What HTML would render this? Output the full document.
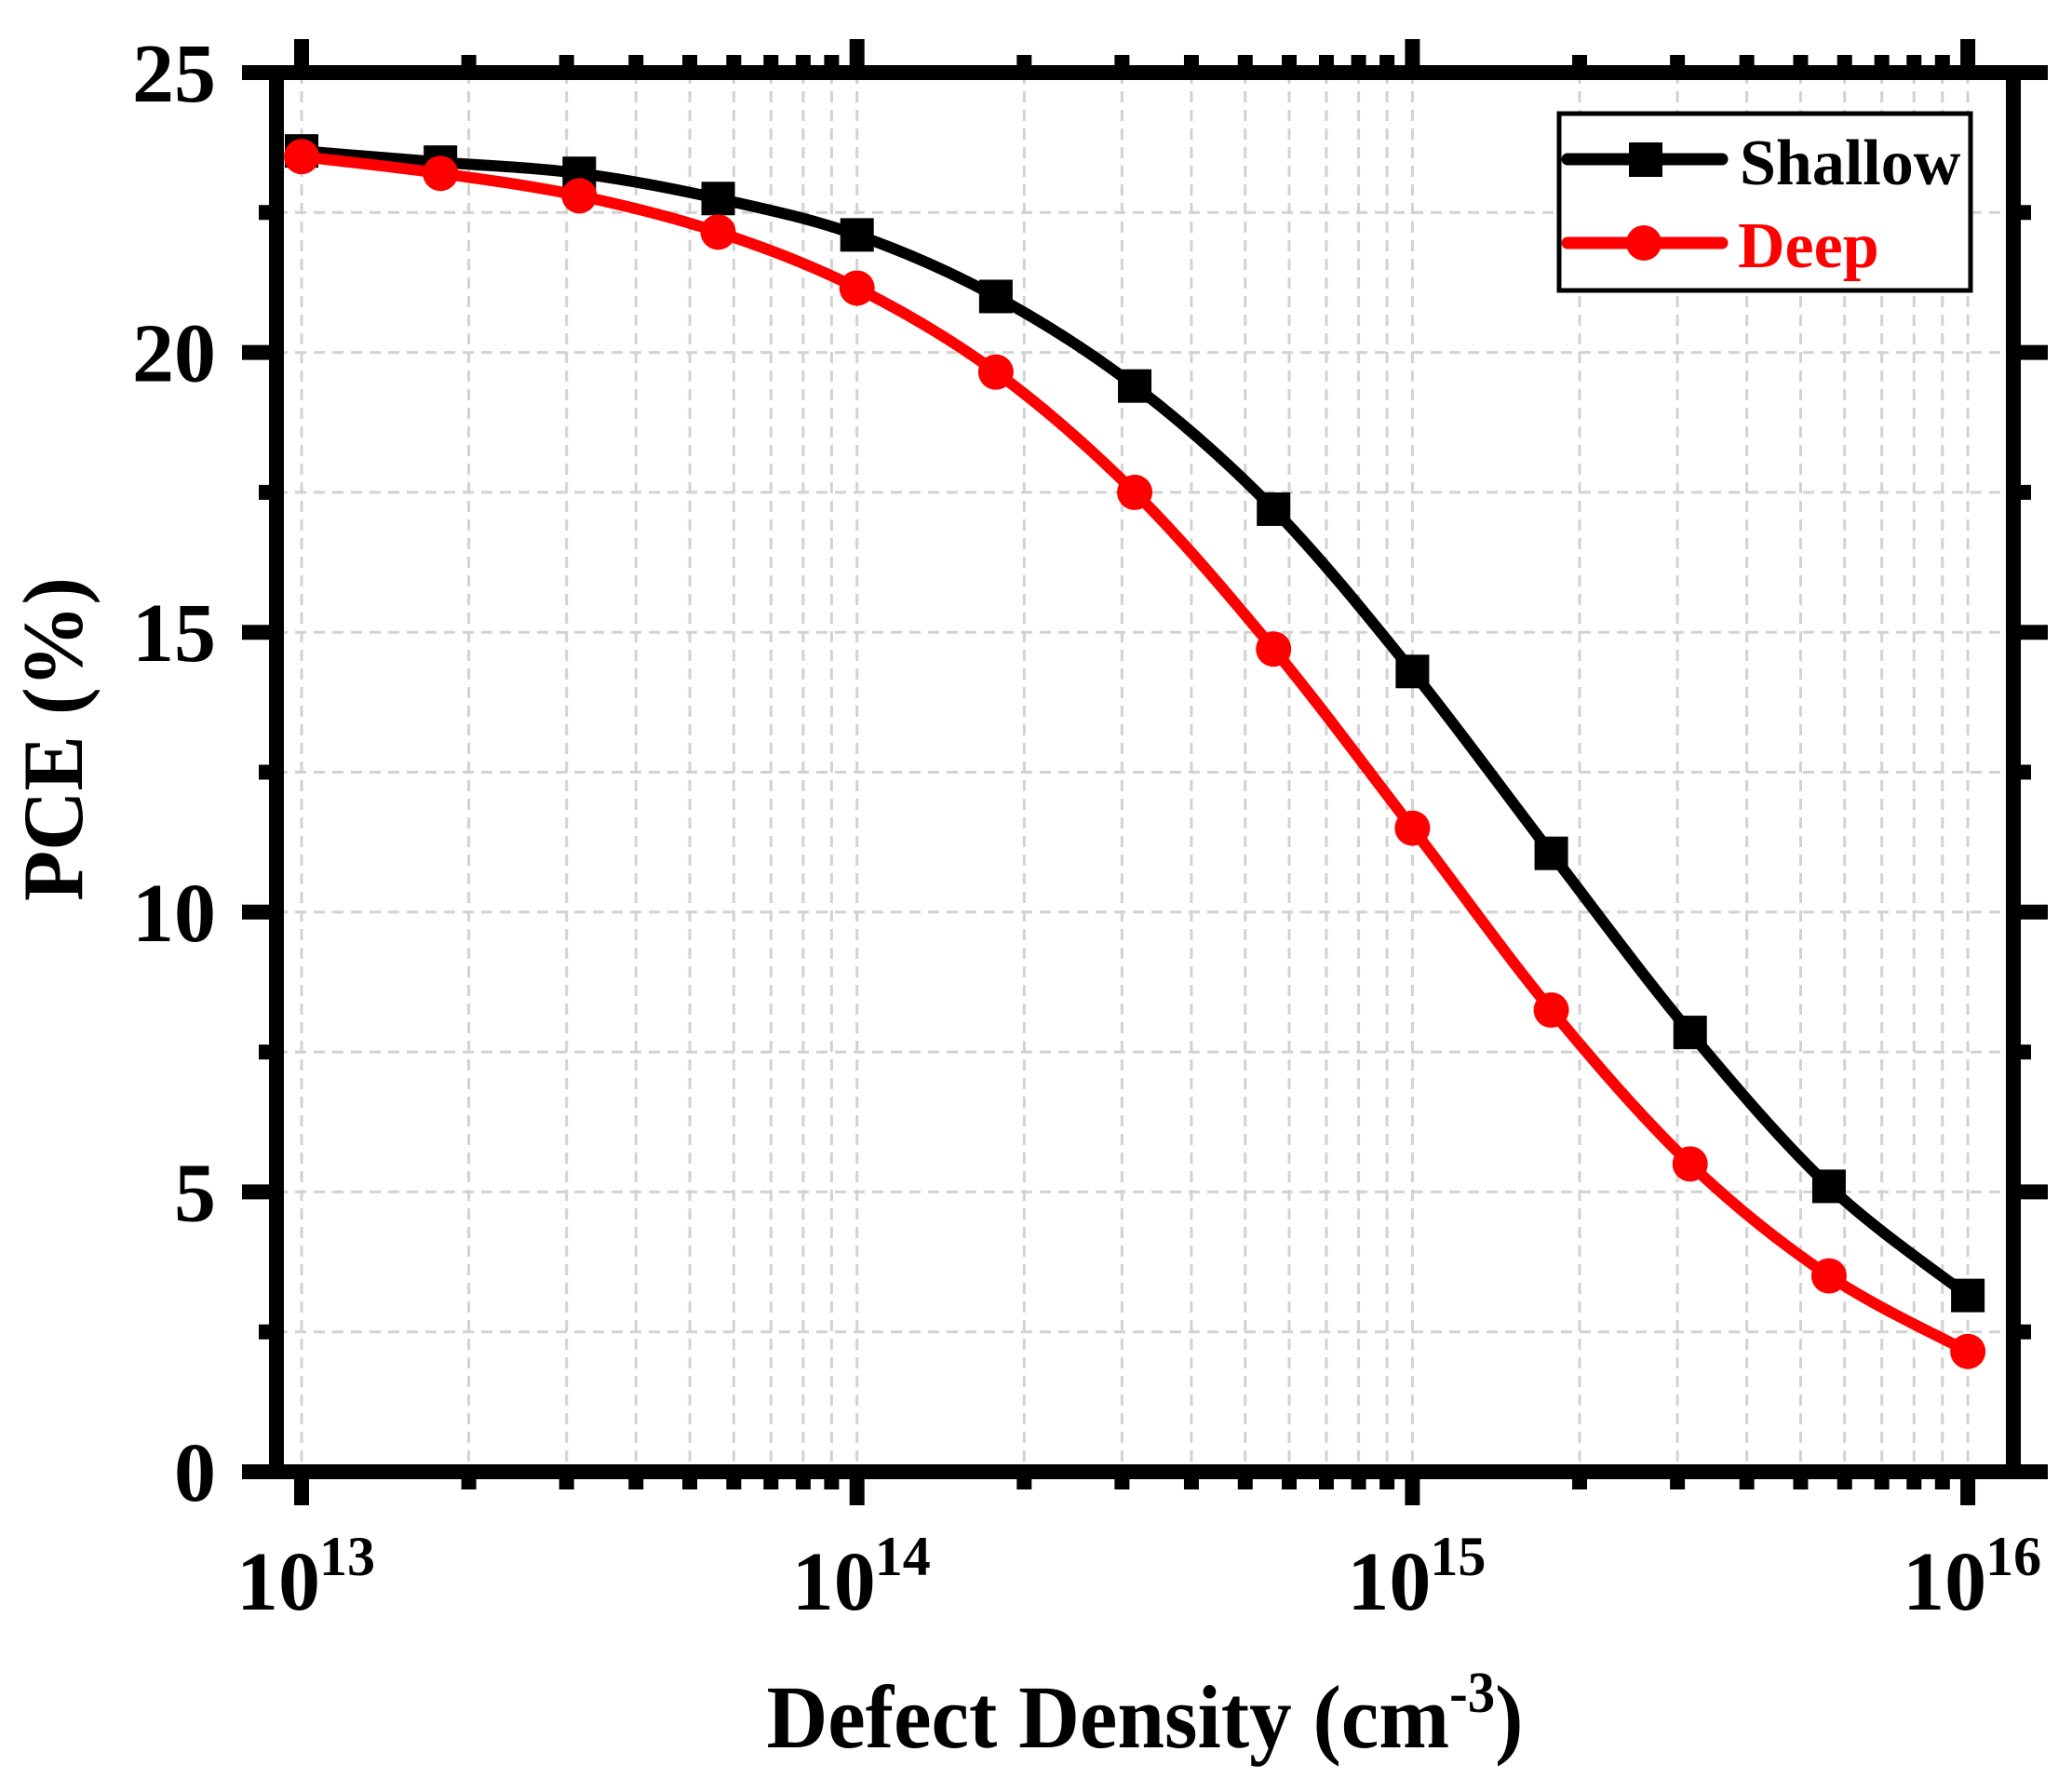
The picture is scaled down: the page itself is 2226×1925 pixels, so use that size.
<!DOCTYPE html>
<html><head><meta charset="utf-8"><style>
html,body{margin:0;padding:0;background:#fff}
svg{display:block}
text{font-family:"Liberation Serif","Times New Roman",serif;font-weight:bold}
</style></head><body>
<svg id="s" xmlns="http://www.w3.org/2000/svg" width="2226" height="1925" viewBox="0 0 2226 1925">
<rect width="2226" height="1925" fill="#fff"/>
<g id="grid"></g>
<g id="series"></g>
<g id="axes"></g>
<text x="1230" y="1877" font-size="96" text-anchor="middle" textLength="813" lengthAdjust="spacingAndGlyphs">Defect Density (cm<tspan dy="-38" font-size="62">-3</tspan><tspan dy="38">)</tspan></text>
<text transform="translate(88,794) rotate(-90)" font-size="92" text-anchor="middle" textLength="348" lengthAdjust="spacingAndGlyphs">PCE (%)</text>
<rect x="1675" y="122" width="442" height="190" fill="#fff" stroke="#000" stroke-width="5"/>
<line x1="1684" y1="171" x2="1850" y2="171" stroke="#000" stroke-width="13" stroke-linecap="round"/>
<rect x="1750" y="153" width="36" height="37" fill="#000"/>
<text x="1869" y="198" font-size="70" fill="#000">Shallow</text>
<line x1="1684" y1="261" x2="1850" y2="261" stroke="#f00" stroke-width="13" stroke-linecap="round"/>
<circle cx="1766" cy="261" r="19" fill="#f00"/>
<text x="1867" y="287" font-size="70" fill="#f00">Deep</text>
</svg>
<script>
var NS="http://www.w3.org/2000/svg";
function el(p,t,a){var e=document.createElementNS(NS,t);for(var k in a)e.setAttribute(k,a[k]);p.appendChild(e);return e;}
var L=297,R=2163,T=78,B=1581,X0=324,DX=596.7,PY=(B-T)/25;
function xs(lg){return X0+(lg-13)*DX;}
function ys(v){return B-v*PY;}
var grid=document.getElementById('grid'),axes=document.getElementById('axes'),ser=document.getElementById('series');
var gs={stroke:"#d2d2d2","stroke-width":3,"stroke-dasharray":"12 8"};
for(var v=2.5;v<25;v+=2.5){var y=ys(v);var a=Object.assign({x1:L,x2:R,y1:y,y2:y},gs);el(grid,'line',a);}
var xt=[];
for(var d=13;d<16;d++){for(var m=1;m<10;m++){xt.push([d+Math.log10(m),m==1]);}}
xt.push([16,true]);
xt.forEach(function(t){var x=xs(t[0]);el(grid,'line',Object.assign({x1:x,x2:x,y1:T,y2:B},gs));});
// series
var sh=[23.6,23.4,23.2,22.75,22.1,21.0,19.4,17.2,14.3,11.05,7.85,5.1,3.15];
var dp=[23.5,23.2,22.8,22.15,21.15,19.65,17.5,14.7,11.5,8.25,5.5,3.5,2.15];
function path(vals){var P=vals.map(function(v,i){return [X0+i*DX/4,ys(v)];});
var d="M"+P[0][0]+","+P[0][1];
for(var i=0;i<P.length-1;i++){var p0=P[i-1]||P[i],p1=P[i],p2=P[i+1],p3=P[i+2]||P[i+1];
var c1=[p1[0]+(p2[0]-p0[0])/6,p1[1]+(p2[1]-p0[1])/6],c2=[p2[0]-(p3[0]-p1[0])/6,p2[1]-(p3[1]-p1[1])/6];
d+=" C"+c1+" "+c2+" "+p2;}return [d,P];}
var a=path(sh);el(ser,'path',{d:a[0],fill:"none",stroke:"#000","stroke-width":12,"stroke-linejoin":"round"});
a[1].forEach(function(p){el(ser,'rect',{x:p[0]-18,y:p[1]-18,width:36,height:36,fill:"#000"});});
var b=path(dp);el(ser,'path',{d:b[0],fill:"none",stroke:"#f00","stroke-width":12,"stroke-linejoin":"round"});
b[1].forEach(function(p){el(ser,'circle',{cx:p[0],cy:p[1],r:19,fill:"#f00"});});
// axes frame
var K={stroke:"#000","stroke-width":16};
el(axes,'rect',{x:L,y:T,width:R-L,height:B-T,fill:"none",stroke:"#000","stroke-width":16});
// y ticks
for(var v=0;v<=25;v+=2.5){var y=ys(v),maj=(v%5==0),len=maj?37:19;
el(axes,'line',Object.assign({x1:L-len,x2:L,y1:y,y2:y},K));
el(axes,'line',Object.assign({x1:R,x2:R+len,y1:y,y2:y},K));
if(maj){var t=el(axes,'text',{x:232,y:y+31,"font-size":90,"text-anchor":"end"});t.textContent=String(v);}}
// x ticks
xt.forEach(function(tk){var x=xs(tk[0]),len=tk[1]?36:19;
el(axes,'line',Object.assign({x1:x,x2:x,y1:B,y2:B+len},K));
el(axes,'line',Object.assign({x1:x,x2:x,y1:T-len,y2:T},K));});
[13,14,15,16].forEach(function(d){var x=xs(d);
var t=el(axes,'text',{x:x-70,y:1729,"font-size":90});t.textContent="10";
var s=el(axes,'text',{x:x+19,y:1692,"font-size":60});s.textContent=String(d);});
</script>
</body></html>
